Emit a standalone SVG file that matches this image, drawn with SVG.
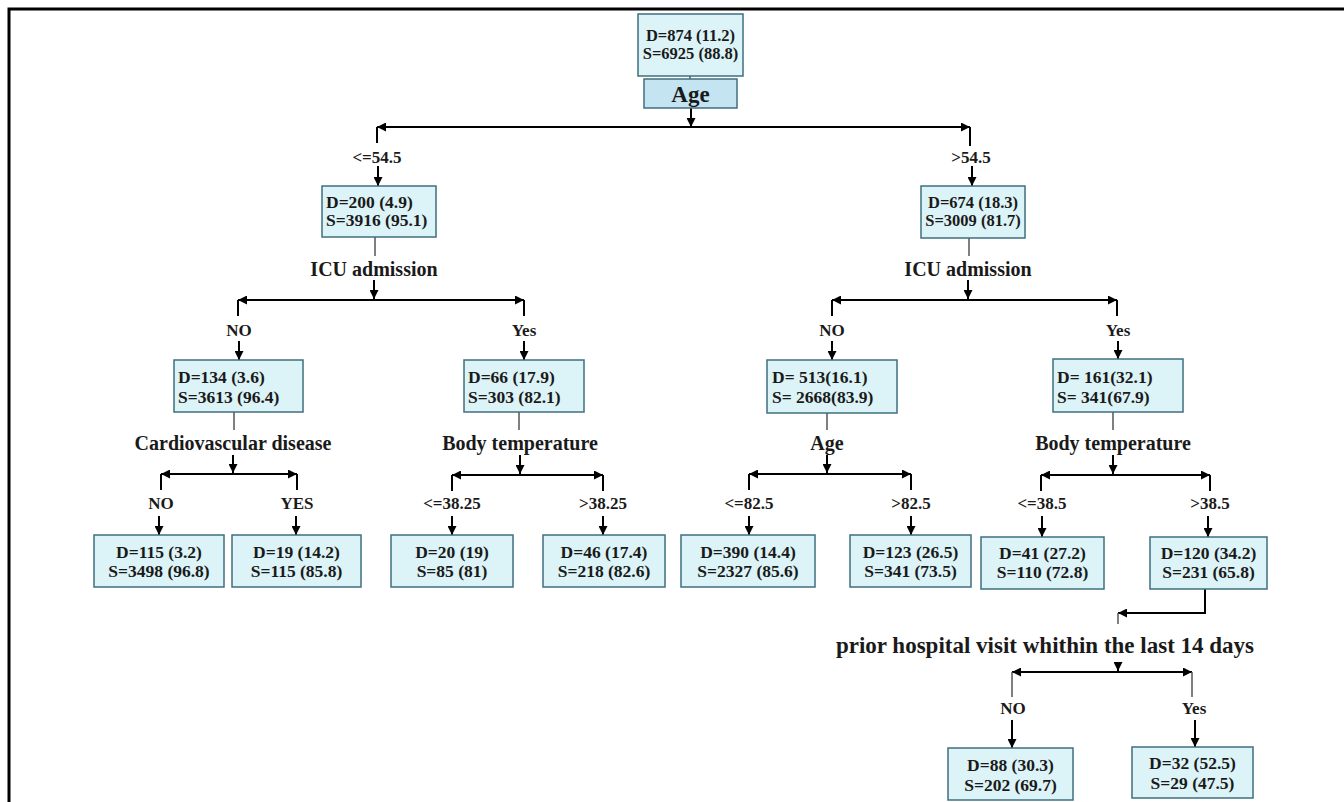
<svg xmlns="http://www.w3.org/2000/svg" width="1344" height="802" viewBox="0 0 1344 802">
<defs>
<marker id="ah" viewBox="0 0 10 10" refX="10" refY="5" markerWidth="9" markerHeight="9" markerUnits="userSpaceOnUse" orient="auto">
<path d="M0,0 L10,5 L0,10 z" fill="#000"/>
</marker>
</defs>
<style>
.box{fill:#dcf3f7;stroke:#3f6f7f;stroke-width:1.5}
.abox{fill:#c4e4f1;stroke:#3f6f7f;stroke-width:1.5}
.t{font-family:"Liberation Serif","Times New Roman",serif;font-weight:bold;font-size:17.5px;fill:#1a1a1a}
.c{text-anchor:middle}
.attr{font-size:20px}
.lbl{font-size:17px}
.ln{stroke:#000;stroke-width:2;fill:none}
.ar{stroke:#000;stroke-width:2;fill:none;marker-end:url(#ah)}
.st{stroke:#555;stroke-width:1.5;fill:none}
.frame{stroke:#000;stroke-width:3;fill:none}
</style>
<rect width="1344" height="802" fill="#fff"/>
<path class="frame" d="M9,802 L9,9 L1344,9"/>

<g id="connectors">
<line class="st" x1="690" y1="76" x2="690" y2="79"/>
<line class="ar" x1="691" y1="108" x2="691" y2="127"/>
<line class="ar" x1="691" y1="127" x2="377" y2="127"/>
<line class="ar" x1="691" y1="127" x2="970" y2="127"/>
<line class="ln" x1="377" y1="127" x2="377" y2="143"/>
<line class="ln" x1="970" y1="127" x2="970" y2="146"/>
<line class="ar" x1="378" y1="166" x2="378" y2="186"/>
<line class="ar" x1="972" y1="166" x2="972" y2="186"/>
<line class="st" x1="375" y1="237" x2="375" y2="256"/>
<line class="ar" x1="374" y1="280" x2="374" y2="299"/>
<line class="ar" x1="374" y1="300" x2="238" y2="300"/>
<line class="ar" x1="374" y1="300" x2="524" y2="300"/>
<line class="ln" x1="238" y1="300" x2="238" y2="316"/>
<line class="ln" x1="524" y1="300" x2="524" y2="316"/>
<line class="st" x1="969" y1="238" x2="969" y2="256"/>
<line class="ar" x1="968" y1="280" x2="968" y2="299"/>
<line class="ar" x1="968" y1="300" x2="832" y2="300"/>
<line class="ar" x1="968" y1="300" x2="1117" y2="300"/>
<line class="ln" x1="832" y1="300" x2="832" y2="316"/>
<line class="ln" x1="1117" y1="300" x2="1117" y2="316"/>
<line class="ar" x1="239" y1="341" x2="239" y2="360"/>
<line class="ar" x1="524" y1="341" x2="524" y2="360"/>
<line class="ar" x1="832" y1="341" x2="832" y2="360"/>
<line class="ar" x1="1118" y1="341" x2="1118" y2="359"/>
<line class="st" x1="234" y1="412" x2="234" y2="430"/>
<line class="st" x1="519" y1="412" x2="519" y2="430"/>
<line class="st" x1="827" y1="413" x2="827" y2="430"/>
<line class="st" x1="1113" y1="412" x2="1113" y2="430"/>
<line class="ar" x1="233" y1="455" x2="233" y2="473"/>
<line class="ar" x1="520" y1="455" x2="520" y2="474"/>
<line class="ar" x1="827" y1="455" x2="827" y2="473"/>
<line class="ar" x1="1113" y1="455" x2="1113" y2="474"/>
<line class="ar" x1="233" y1="474" x2="161" y2="474"/>
<line class="ar" x1="233" y1="474" x2="297" y2="474"/>
<line class="ln" x1="161" y1="474" x2="161" y2="490"/>
<line class="ln" x1="297" y1="474" x2="297" y2="490"/>
<line class="ar" x1="520" y1="475" x2="452" y2="475"/>
<line class="ar" x1="520" y1="475" x2="603" y2="475"/>
<line class="ln" x1="452" y1="475" x2="452" y2="491"/>
<line class="ln" x1="603" y1="475" x2="603" y2="491"/>
<line class="ar" x1="827" y1="474" x2="749" y2="474"/>
<line class="ar" x1="827" y1="474" x2="911" y2="474"/>
<line class="ln" x1="749" y1="474" x2="749" y2="490"/>
<line class="ln" x1="911" y1="474" x2="911" y2="490"/>
<line class="ar" x1="1113" y1="475" x2="1041" y2="475"/>
<line class="ar" x1="1113" y1="475" x2="1210" y2="475"/>
<line class="ln" x1="1041" y1="475" x2="1041" y2="491"/>
<line class="ln" x1="1210" y1="475" x2="1210" y2="491"/>
<line class="ar" x1="159" y1="516" x2="159" y2="535"/>
<line class="ar" x1="296" y1="516" x2="296" y2="535"/>
<line class="ar" x1="452" y1="516" x2="452" y2="535"/>
<line class="ar" x1="603" y1="516" x2="603" y2="535"/>
<line class="ar" x1="749" y1="516" x2="749" y2="535"/>
<line class="ar" x1="911" y1="516" x2="911" y2="535"/>
<line class="ar" x1="1042" y1="516" x2="1042" y2="537"/>
<line class="ar" x1="1208" y1="516" x2="1208" y2="537"/>
<path class="ln" d="M1205,589 L1205,613 L1130,613"/>
<line class="ar" x1="1140" y1="613" x2="1118" y2="613"/>
<line class="st" x1="1118" y1="613" x2="1118" y2="624"/>
<line class="ar" x1="1118" y1="662" x2="1118" y2="671"/>
<line class="ar" x1="1118" y1="672" x2="1012" y2="672"/>
<line class="ar" x1="1118" y1="672" x2="1192" y2="672"/>
<line class="st" x1="1012" y1="672" x2="1012" y2="697"/>
<line class="st" x1="1192" y1="672" x2="1192" y2="697"/>
<line class="ar" x1="1012" y1="720" x2="1012" y2="748"/>
<line class="ar" x1="1195" y1="720" x2="1195" y2="747"/>
</g>

<g id="branch-labels" class="t lbl c">
<text x="377" y="163">&lt;=54.5</text>
<text x="971" y="163">&gt;54.5</text>
<text x="239" y="336">NO</text>
<text x="524" y="336">Yes</text>
<text x="832" y="336">NO</text>
<text x="1118" y="336">Yes</text>
<text x="161" y="509">NO</text>
<text x="297" y="509">YES</text>
<text x="452" y="509">&lt;=38.25</text>
<text x="603" y="509">&gt;38.25</text>
<text x="749" y="509">&lt;=82.5</text>
<text x="911" y="509">&gt;82.5</text>
<text x="1042" y="509">&lt;=38.5</text>
<text x="1210" y="509">&gt;38.5</text>
<text x="1013" y="714">NO</text>
<text x="1194" y="714">Yes</text>
</g>

<g id="split-labels" class="t attr c">
<text x="374" y="276">ICU admission</text>
<text x="968" y="276">ICU admission</text>
<text x="233" y="450">Cardiovascular disease</text>
<text x="520" y="450">Body temperature</text>
<text x="827" y="450">Age</text>
<text x="1113" y="450">Body temperature</text>
<text x="1045" y="653" style="font-size:23px">prior hospital visit whithin the last 14 days</text>
</g>

<g id="root">
<rect class="box" x="638" y="14" width="105" height="62"/>
<text class="t c" x="690.5" y="41" style="font-size:16.5px">D=874 (11.2)</text>
<text class="t c" x="690.5" y="59" style="font-size:16.5px">S=6925 (88.8)</text>
</g>
<g id="root-split">
<rect class="abox" x="644" y="79" width="93" height="29"/>
<text class="t c" x="690.5" y="102" style="font-size:23px">Age</text>
</g>

<g id="n-le545">
<rect class="box" x="322" y="186" width="114" height="51"/>
<text class="t" x="326" y="208">D=200 (4.9)</text>
<text class="t" x="326" y="226">S=3916 (95.1)</text>
</g>
<g id="n-gt545">
<rect class="box" x="921" y="186" width="104" height="52"/>
<text class="t c" x="973" y="208" style="font-size:16.5px">D=674 (18.3)</text>
<text class="t c" x="973" y="226" style="font-size:16.5px">S=3009 (81.7)</text>
</g>

<g id="n-l-no">
<rect class="box" x="174" y="360" width="129" height="52"/>
<text class="t" x="178" y="383">D=134 (3.6)</text>
<text class="t" x="178" y="403">S=3613 (96.4)</text>
</g>
<g id="n-l-yes">
<rect class="box" x="464" y="360" width="120" height="52"/>
<text class="t" x="468" y="383">D=66 (17.9)</text>
<text class="t" x="468" y="403">S=303 (82.1)</text>
</g>
<g id="n-r-no">
<rect class="box" x="767" y="360" width="130" height="53"/>
<text class="t" x="772" y="383">D= 513(16.1)</text>
<text class="t" x="772" y="403">S= 2668(83.9)</text>
</g>
<g id="n-r-yes">
<rect class="box" x="1053" y="359" width="130" height="53"/>
<text class="t" x="1057" y="383">D= 161(32.1)</text>
<text class="t" x="1057" y="403">S= 341(67.9)</text>
</g>

<g id="leaf1">
<rect class="box" x="94" y="535" width="130" height="52"/>
<text class="t c" x="159" y="558">D=115 (3.2)</text>
<text class="t c" x="159" y="577">S=3498 (96.8)</text>
</g>
<g id="leaf2">
<rect class="box" x="232" y="535" width="129" height="52"/>
<text class="t c" x="296.5" y="558">D=19 (14.2)</text>
<text class="t c" x="296.5" y="577">S=115 (85.8)</text>
</g>
<g id="leaf3">
<rect class="box" x="391" y="535" width="122" height="52"/>
<text class="t c" x="452" y="558">D=20 (19)</text>
<text class="t c" x="452" y="577">S=85 (81)</text>
</g>
<g id="leaf4">
<rect class="box" x="543" y="535" width="122" height="52"/>
<text class="t c" x="604" y="558">D=46 (17.4)</text>
<text class="t c" x="604" y="577">S=218 (82.6)</text>
</g>
<g id="leaf5">
<rect class="box" x="681" y="535" width="134" height="52"/>
<text class="t c" x="748" y="558">D=390 (14.4)</text>
<text class="t c" x="748" y="577">S=2327 (85.6)</text>
</g>
<g id="leaf6">
<rect class="box" x="850" y="535" width="121" height="52"/>
<text class="t c" x="910.5" y="558">D=123 (26.5)</text>
<text class="t c" x="910.5" y="577">S=341 (73.5)</text>
</g>
<g id="leaf7">
<rect class="box" x="981" y="537" width="123" height="52"/>
<text class="t c" x="1042.5" y="559">D=41 (27.2)</text>
<text class="t c" x="1042.5" y="578">S=110 (72.8)</text>
</g>
<g id="n-gt385">
<rect class="box" x="1150" y="537" width="117" height="52"/>
<text class="t c" x="1208.5" y="559">D=120 (34.2)</text>
<text class="t c" x="1208.5" y="578">S=231 (65.8)</text>
</g>
<g id="leaf8">
<rect class="box" x="948" y="748" width="125" height="52"/>
<text class="t c" x="1010.5" y="771">D=88 (30.3)</text>
<text class="t c" x="1010.5" y="791">S=202 (69.7)</text>
</g>
<g id="leaf9">
<rect class="box" x="1132" y="747" width="121" height="51"/>
<text class="t c" x="1192.5" y="769">D=32 (52.5)</text>
<text class="t c" x="1192.5" y="789">S=29 (47.5)</text>
</g>
</svg>
